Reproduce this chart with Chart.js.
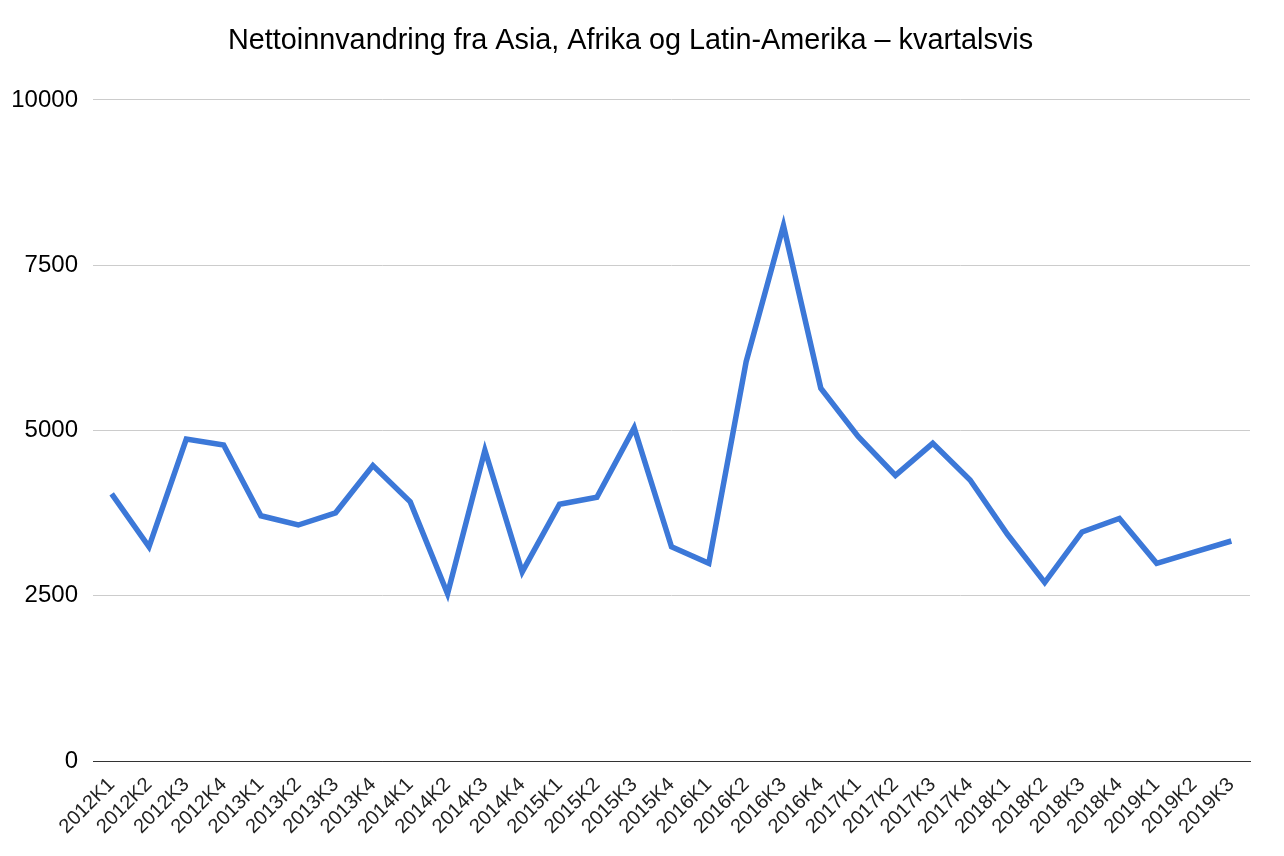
<!DOCTYPE html>
<html>
<head>
<meta charset="utf-8">
<script src="https://cdn.jsdelivr.net/npm/chart.js@4"></script>
<style>
  html, body { margin: 0; padding: 0; background: #fff; }
  #wrap { width: 1284px; height: 856px; position: relative; }
</style>
</head>
<body>
<div id="wrap"><canvas id="chart"></canvas></div>
<script>
// quarters on the x axis
const quarters = [
  '2012K1', '2012K2', '2012K3', '2012K4',
  '2013K1', '2013K2', '2013K3', '2013K4',
  '2014K1', '2014K2', '2014K3', '2014K4',
  '2015K1', '2015K2', '2015K3', '2015K4',
  '2016K1', '2016K2', '2016K3', '2016K4',
  '2017K1', '2017K2', '2017K3', '2017K4',
  '2018K1', '2018K2', '2018K3', '2018K4',
  '2019K1', '2019K2', '2019K3'
];

// net immigration per quarter
const netImmigration = [
  4040, 3240, 4870, 4780,
  3710, 3570, 3755, 4470,
  3920, 2530, 4700, 2860,
  3885, 3990, 5040, 3240,
  2990, 6040, 8100, 5640,
  4910, 4320, 4806, 4250,
  3430, 2700, 3465, 3670,
  2990, 3160, 3328
];

const yTicks = [0, 2500, 5000, 7500, 10000];

const FONT = 'Arial, "Liberation Sans", sans-serif';

const ctx = document.getElementById('chart').getContext('2d');
const chart = new Chart(ctx, {
  type: 'line',
  data: {
    labels: quarters,
    datasets: [
      {
        label: 'Nettoinnvandring',
        data: netImmigration,
        borderColor: '#3c78d8',
        backgroundColor: '#3c78d8',
        borderWidth: 5.5,
        pointRadius: 0,
        tension: 0,
        borderJoinStyle: 'miter',
      },
    ],
  },
  options: {
    responsive: true,
    maintainAspectRatio: false,
    animation: false,
    layout: { padding: { left: 11, right: 34, top: 0, bottom: 0 } },
    plugins: {
      legend: { display: false },
      tooltip: { enabled: false },
      title: {
        display: true,
        text: 'Nettoinnvandring fra Asia, Afrika og Latin-Amerika – kvartalsvis',
        color: '#000',
        font: { family: FONT, size: 28.8, weight: 'normal', lineHeight: 1.2 },
        padding: { top: 24, bottom: 41.4 },
      },
    },
    scales: {
      x: {
        offset: true,
        grid: { display: false },
        border: { display: true, color: '#333', width: 1 },
        ticks: {
          color: '#222',
          font: { family: FONT, size: 20 },
          minRotation: 45,
          maxRotation: 45,
          autoSkip: false,
          padding: 4,
        },
        afterFit: scale => { scale.height = 95; },
      },
      y: {
        min: 0,
        max: 10000,
        afterBuildTicks: scale => {
          scale.ticks = yTicks.map(v => ({ value: v }));
        },
        grid: {
          color: c => (c.tick && c.tick.value === 0 ? '#333' : '#cccccc'),
          lineWidth: 1,
          drawTicks: false,
        },
        border: { display: false },
        ticks: {
          color: '#000',
          font: { family: FONT, size: 24 },
          padding: 15,
          callback: v => String(v),
        },
        afterFit: scale => { scale.width = 82; },
      },
    },
  },
});
</script>
</body>
</html>
